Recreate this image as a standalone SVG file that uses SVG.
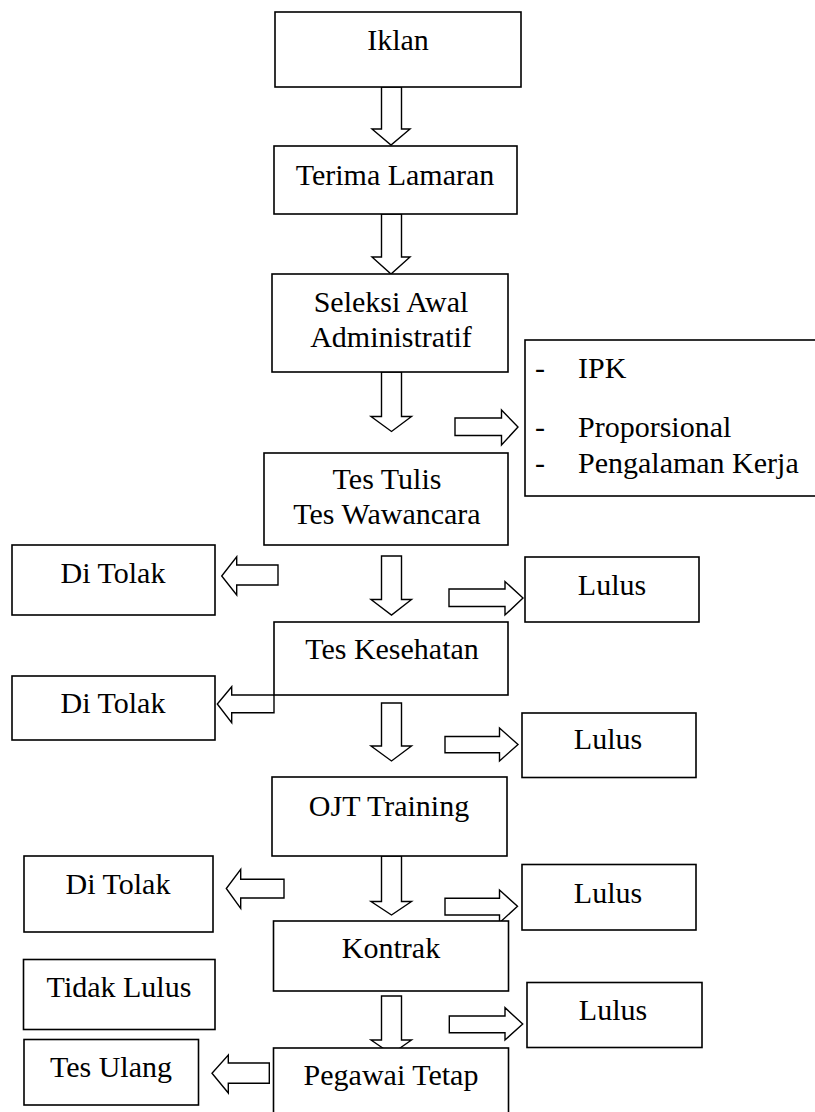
<svg xmlns="http://www.w3.org/2000/svg" width="815" height="1112" viewBox="0 0 815 1112">
  <style>
    .box { fill: #ffffff; stroke: #000000; stroke-width: 1.6; }
    .arrow { fill: #ffffff; stroke: #000000; stroke-width: 1.4; stroke-linejoin: miter; }
    .label { text-anchor: middle; }
  </style>
  <rect width="815" height="1112" fill="#ffffff"/>

  <!-- block arrows -->
  <g id="connectors">
    <!-- downward flow -->
    <polygon class="arrow" points="381.5,87 401.5,87 401.5,129 410,129 391,145 372,129 381.5,129"/>
    <polygon class="arrow" points="381.5,214 401.5,214 401.5,257 410,257 391,274 372,257 381.5,257"/>
    <polygon class="arrow" points="381.5,372 401.5,372 401.5,416.5 411.5,416.5 391.5,431.5 371,416.5 381.5,416.5"/>
    <polygon class="arrow" points="381.5,556 401.5,556 401.5,599.5 411.5,599.5 391.5,615 371,599.5 381.5,599.5"/>
    <polygon class="arrow" points="381.5,703 401.5,703 401.5,746 411.5,746 391.5,761 371,746 381.5,746"/>
    <polygon class="arrow" points="381.5,856 401.5,856 401.5,901.5 411.5,901.5 391.5,915 371,901.5 381.5,901.5"/>
    <polygon class="arrow" points="381.5,996 401.5,996 401.5,1040 411.5,1040 391.5,1054 371,1040 381.5,1040"/>
    <!-- rightward arrows -->
    <polygon class="arrow" points="455,418 501.5,418 501.5,410 518,427 501.5,445 501.5,435.5 455,435.5"/>
    <polygon class="arrow" points="449,589 505,589 505,581.5 523,598 505,615 505,606.5 449,606.5"/>
    <polygon class="arrow" points="445,736.5 499.5,736.5 499.5,728 518,744.5 499.5,761 499.5,752.7 445,752.7"/>
    <polygon class="arrow" points="445,898.3 499.5,898.3 499.5,890 517.5,906.3 499.5,922.7 499.5,915 445,915"/>
    <polygon class="arrow" points="449.3,1016 505,1016 505,1007.7 522.7,1024 505,1040 505,1032.7 449.3,1032.7"/>
    <!-- leftward arrows -->
    <polygon class="arrow" points="278,565 236.7,565 236.7,556.7 221.7,576 236.7,595 236.7,585 278,585"/>
    <polygon class="arrow" points="274,695 231.7,695 231.7,686.7 217.3,704 231.7,722.7 231.7,712.7 274,712.7"/>
    <polygon class="arrow" points="284,879.3 240.7,879.3 240.7,869.3 226.3,888.5 240.7,908.3 240.7,898 284,898"/>
    <polygon class="arrow" points="269.3,1063 228.3,1063 228.3,1055 212,1073.3 228.3,1093 228.3,1083.3 269.3,1083.3"/>
  </g>

  <g id="nodes" font-family="Liberation Serif, DejaVu Serif, serif" font-size="30" fill="#000000">
  <g id="iklan">
    <rect class="box" x="275" y="12" width="246" height="75"/>
    <text class="label" x="398" y="50">Iklan</text>
  </g>
  <g id="terima-lamaran">
    <rect class="box" x="274" y="146" width="243" height="68"/>
    <text class="label" x="395" y="185">Terima Lamaran</text>
  </g>
  <g id="seleksi-awal">
    <rect class="box" x="272" y="274" width="236" height="98"/>
    <text class="label" x="391" y="312">Seleksi Awal</text>
    <text class="label" x="391" y="347">Administratif</text>
  </g>
  <g id="kriteria">
    <rect class="box" x="525" y="340" width="300" height="156"/>
    <text x="535" y="378">-</text>
    <text x="578" y="378">IPK</text>
    <text x="535" y="437">-</text>
    <text x="578" y="437">Proporsional</text>
    <text x="535" y="473">-</text>
    <text x="578" y="473">Pengalaman Kerja</text>
  </g>
  <g id="tes-tulis">
    <rect class="box" x="264" y="453" width="244" height="92"/>
    <text class="label" x="387" y="489">Tes Tulis</text>
    <text class="label" x="387" y="524">Tes Wawancara</text>
  </g>
  <g id="ditolak-1">
    <rect class="box" x="12" y="545" width="203" height="70"/>
    <text class="label" x="113" y="583">Di Tolak</text>
  </g>
  <g id="lulus-1">
    <rect class="box" x="525" y="557" width="174" height="65"/>
    <text class="label" x="612" y="595">Lulus</text>
  </g>
  <g id="tes-kesehatan">
    <rect class="box" x="274" y="622" width="234" height="73"/>
    <text class="label" x="392" y="659">Tes Kesehatan</text>
  </g>
  <g id="ditolak-2">
    <rect class="box" x="12" y="676" width="203" height="64"/>
    <text class="label" x="113" y="713">Di Tolak</text>
  </g>
  <g id="lulus-2">
    <rect class="box" x="522" y="713" width="174" height="64.5"/>
    <text class="label" x="608" y="749">Lulus</text>
  </g>
  <g id="ojt-training">
    <rect class="box" x="272" y="777" width="235" height="79"/>
    <text class="label" x="389" y="816">OJT Training</text>
  </g>
  <g id="ditolak-3">
    <rect class="box" x="24" y="856" width="189" height="76"/>
    <text class="label" x="118" y="894">Di Tolak</text>
  </g>
  <g id="lulus-3">
    <rect class="box" x="522" y="864.5" width="174" height="65.5"/>
    <text class="label" x="608" y="903">Lulus</text>
  </g>
  <g id="kontrak">
    <rect class="box" x="273.5" y="921" width="235" height="70"/>
    <text class="label" x="391" y="958">Kontrak</text>
  </g>
  <g id="tidak-lulus">
    <rect class="box" x="23.5" y="959.5" width="191.5" height="70"/>
    <text class="label" x="119" y="997">Tidak Lulus</text>
  </g>
  <g id="lulus-4">
    <rect class="box" x="527" y="982.5" width="175" height="65"/>
    <text class="label" x="613" y="1020">Lulus</text>
  </g>
  <g id="tes-ulang">
    <rect class="box" x="24" y="1039.5" width="174.5" height="65.5"/>
    <text class="label" x="111" y="1077">Tes Ulang</text>
  </g>
  <g id="pegawai-tetap">
    <rect class="box" x="273.5" y="1048" width="235" height="80"/>
    <text class="label" x="391" y="1085">Pegawai Tetap</text>
  </g>
  </g>
</svg>
